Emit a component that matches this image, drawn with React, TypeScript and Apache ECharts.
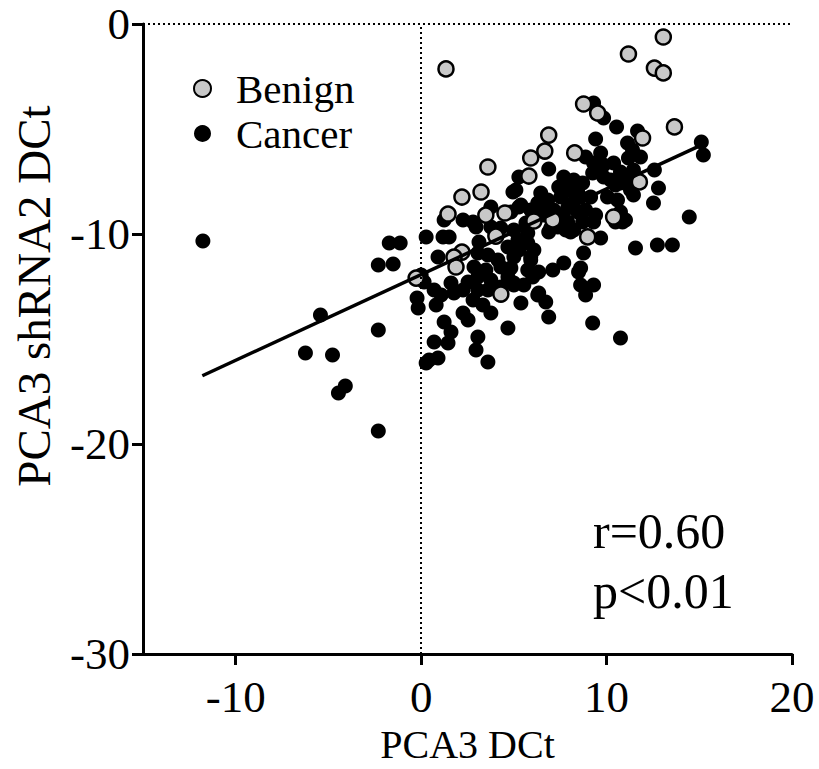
import React, { useEffect, useRef } from "react";
import * as echarts from "echarts";

// Benign samples: [PCA3 DCt, PCA3 shRNA2 DCt]
const benignPoints: [number, number][] = [
  [1.34, -2.14], [11.18, -1.43], [13.06, -0.62], [12.58, -2.1], [13.06, -2.33],
  [8.76, -3.81], [9.52, -4.24], [13.66, -4.9], [11.94, -5.43], [6.88, -5.29],
  [6.67, -6.05], [5.91, -6.38], [5.81, -7.24], [8.28, -6.14], [3.6, -6.81],
  [11.77, -7.52], [3.23, -8.0], [2.2, -8.24], [1.45, -9.05], [3.49, -9.1],
  [4.52, -9.0], [6.08, -9.38], [7.1, -9.33], [10.38, -9.19], [8.98, -10.14],
  [4.03, -10.1], [2.2, -10.86], [1.77, -11.1], [1.88, -11.57], [-0.27, -12.1],
  [4.3, -12.86],
];

// Cancer samples: [PCA3 DCt, PCA3 shRNA2 DCt]
const cancerPoints: [number, number][] = [
  [-11.77, -10.33], [-1.72, -10.43], [-1.13, -10.43], [-2.31, -11.48], [-1.51, -11.43],
  [-5.43, -13.86], [-2.31, -14.57], [-6.24, -15.67], [-4.78, -15.76], [-4.09, -17.24],
  [-4.46, -17.57], [-2.31, -19.38],
  [0.27, -10.14], [1.18, -10.14], [1.51, -10.14], [0.91, -11.1], [0.0, -11.95],
  [-0.22, -13.05], [-0.16, -13.52], [0.7, -12.67], [1.08, -12.9], [0.81, -13.38],
  [1.77, -12.81], [2.26, -12.67], [1.24, -14.19], [1.61, -14.67], [0.7, -15.14],
  [1.45, -15.19], [0.43, -16.0], [0.91, -15.9], [0.27, -16.14], [3.06, -14.9],
  [2.96, -15.52], [3.6, -16.1], [2.53, -14.1], [2.26, -13.76], [3.76, -13.76],
  [2.8, -13.14], [3.33, -13.38], [3.06, -12.67], [3.6, -12.67], [4.3, -12.52],
  [5.0, -12.43], [5.54, -12.43], [5.38, -13.29], [6.29, -12.9], [4.68, -14.48],
  [6.88, -13.95], [6.72, -13.24], [6.34, -12.81], [5.91, -11.1],
  [11.56, -10.67], [12.74, -10.52], [13.55, -10.52], [8.76, -10.9], [7.69, -11.38],
  [7.1, -11.71], [6.34, -11.81], [8.49, -11.81], [8.6, -12.43], [9.3, -12.43],
  [8.87, -12.9], [9.25, -14.24], [10.75, -14.95], [14.46, -9.19], [9.41, -9.1],
  [10.86, -9.43], [9.68, -10.19], [8.06, -9.9], [6.99, -9.71], [8.6, -11.62],
  [15.11, -5.62], [15.22, -6.24], [12.58, -6.95], [12.8, -7.81], [12.53, -8.52],
  [9.3, -3.76], [9.84, -4.48], [10.54, -4.9], [9.41, -5.48], [11.13, -5.67],
  [11.67, -5.1], [6.88, -6.9], [5.27, -7.29], [4.95, -8.0],
  [9.68, -6.14], [8.87, -6.33], [9.3, -6.62], [9.84, -6.71], [10.38, -6.62],
  [7.69, -7.29], [8.23, -7.43], [8.71, -7.57], [7.42, -7.76], [7.9, -7.9],
  [8.44, -8.0], [10.75, -7.05], [11.18, -6.38], [11.45, -6.95], [11.13, -7.29],
  [11.4, -6.0], [11.83, -6.33], [9.25, -7.1], [9.84, -7.29], [10.22, -7.43],
  [10.75, -7.57], [11.29, -7.9], [11.45, -8.14], [10.48, -7.67], [10.05, -8.24],
  [10.59, -8.38], [8.6, -8.24], [7.53, -8.24], [8.23, -8.48], [6.45, -8.05],
  [6.61, -8.71], [7.15, -8.86], [9.14, -8.24], [7.9, -8.76], [8.44, -8.95],
  [8.87, -8.86], [7.9, -9.43], [8.23, -9.81], [8.71, -9.43], [9.3, -9.43],
  [10.75, -8.95], [11.02, -9.33], [10.48, -9.43],
  [6.61, -9.1], [6.88, -9.9], [7.37, -9.67], [7.8, -9.81], [7.53, -9.1],
  [6.29, -8.52], [6.83, -8.38], [5.38, -8.62], [3.76, -8.71], [4.84, -8.95],
  [2.96, -9.67], [2.8, -9.43], [2.26, -9.33], [1.24, -9.33], [3.12, -10.38],
  [3.76, -9.67], [4.3, -9.71], [5.0, -9.81], [5.65, -9.48], [6.02, -9.19],
  [5.27, -8.71], [5.91, -8.86], [5.11, -7.9], [5.22, -10.29], [5.75, -9.95],
  [5.27, -10.76], [5.91, -11.24], [3.06, -10.9], [3.6, -11.0], [4.14, -11.24],
  [4.68, -10.62], [5.0, -11.1], [2.85, -11.57], [3.49, -11.71], [4.3, -11.57],
  [4.84, -11.62], [3.06, -12.05], [3.76, -12.19], [4.68, -12.05], [5.0, -12.33],
  [2.53, -12.29], [0.16, -12.29], [1.61, -12.33], [5.75, -11.71], [6.02, -12.05],
  [5.75, -10.43], [6.08, -10.76],
];

// Regression line end points
const fitX = [-11.8, 14.9];
const fitY = [-16.75, -5.85];

const xTicks = [-10, 0, 10, 20];
const statText = ["r=0.60", "p<0.01"];

const FONT = "'Liberation Serif', 'DejaVu Serif', serif";

export default function App() {
  const ref = useRef<HTMLDivElement>(null);
  useEffect(() => {
    if (!ref.current) return;
    const chart = echarts.init(ref.current, null, { renderer: "svg" });
    chart.setOption({
      animation: false,
      backgroundColor: "#ffffff",
      grid: { left: 143, right: 27, top: 24, bottom: 115, containLabel: false, outerBoundsMode: "none" },
      legend: {
        orient: "vertical",
        left: 188,
        top: 63,
        itemWidth: 17,
        itemHeight: 17,
        itemGap: 4,
        data: ["Benign", "Cancer"],
        textStyle: { fontFamily: FONT, fontSize: 41, color: "#000", padding: [0, 0, 0, 20] },
      },
      xAxis: {
        type: "value",
        min: -15,
        max: 20,
        name: "PCA3 DCt",
        nameLocation: "middle",
        nameGap: 70,
        nameTextStyle: { fontFamily: FONT, fontSize: 40, color: "#000" },
        axisLine: { onZero: false, lineStyle: { color: "#000", width: 3 } },
        axisTick: { show: true, length: 11, customValues: xTicks, lineStyle: { color: "#000", width: 3 } },
        axisLabel: { customValues: xTicks, fontFamily: FONT, fontSize: 45, color: "#000", margin: 20 },
        splitLine: { show: false },
      },
      yAxis: {
        type: "value",
        min: -30,
        max: 0,
        interval: 10,
        axisLine: { onZero: false, lineStyle: { color: "#000", width: 3 } },
        axisTick: { show: true, length: 11, lineStyle: { color: "#000", width: 3 } },
        axisLabel: { fontFamily: FONT, fontSize: 45, color: "#000", margin: 13 },
        splitLine: { show: false },
      },
      graphic: [
        {
          type: "text",
          x: 34,
          y: 296,
          rotation: Math.PI / 2,
          style: {
            text: "PCA3 shRNA2 DCt",
            font: `47px ${FONT}`,
            fill: "#000",
            textAlign: "center",
            textVerticalAlign: "middle",
          },
        },
        {
          type: "text",
          x: 593,
          y: 531,
          style: { text: statText[0], font: `50px ${FONT}`, fill: "#000", textVerticalAlign: "middle" },
        },
        {
          type: "text",
          x: 593,
          y: 591,
          style: { text: statText[1], font: `50px ${FONT}`, fill: "#000", textVerticalAlign: "middle" },
        },
      ],
      series: [
        {
          name: "Cancer",
          type: "scatter",
          symbol: "circle",
          symbolSize: 15,
          itemStyle: { color: "#000", opacity: 1 },
          data: cancerPoints,
          z: 2,
          markLine: {
            silent: true,
            symbol: "none",
            label: { show: false },
            lineStyle: { color: "#000", type: [2, 3], width: 2 },
            data: [{ xAxis: 0 }, { yAxis: 0 }],
          },
        },
        {
          name: "Benign",
          type: "scatter",
          symbol: "circle",
          symbolSize: 15,
          itemStyle: { color: "#c8c8c8", borderColor: "#000", borderWidth: 2.5, opacity: 1 },
          data: benignPoints,
          z: 3,
        },
        {
          name: "fit",
          type: "line",
          data: fitX.map((x, i) => [x, fitY[i]]),
          showSymbol: false,
          symbol: "none",
          lineStyle: { color: "#000", width: 3.5 },
          z: 4,
        },
      ],
    });
    return () => chart.dispose();
  }, []);
  return <div ref={ref} style={{ position: "fixed", left: 0, top: 0, width: 819, height: 769 }} />;
}
